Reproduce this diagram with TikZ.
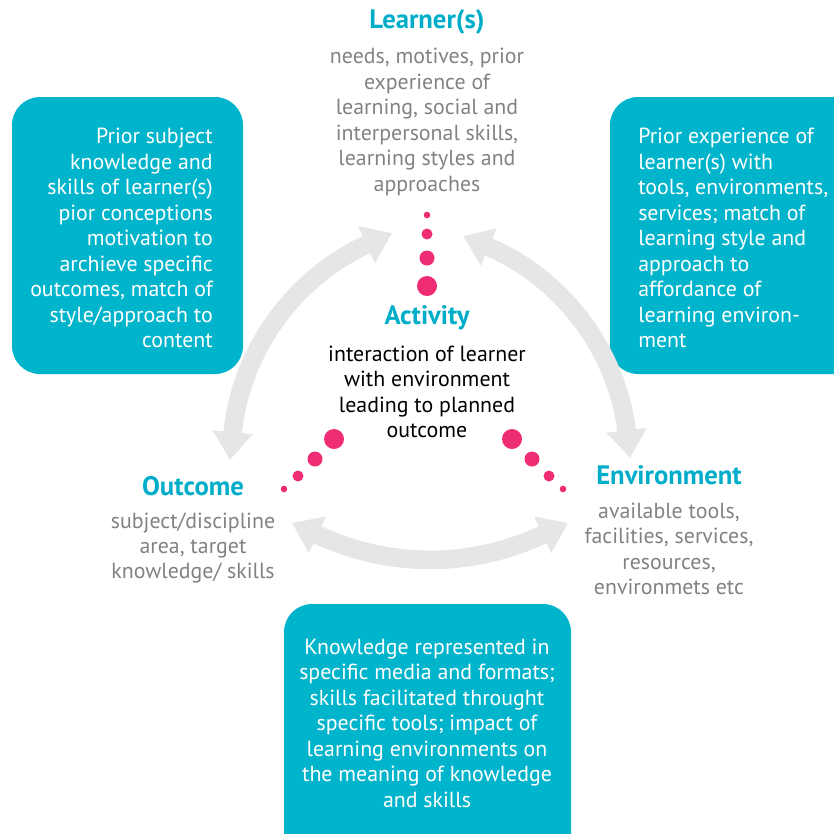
\documentclass[tikz,border=0pt]{standalone}
\usepackage{fontspec}
\setmainfont{PT Sans}
\usetikzlibrary{arrows.meta}
\definecolor{boxcyan}{HTML}{00B4CB}
\definecolor{headcyan}{HTML}{00ADC8}
\definecolor{txtgray}{HTML}{808285}
\definecolor{dotpink}{HTML}{EE2D74}
\definecolor{arcgray}{HTML}{E5E6E7}
\tikzset{
  head/.style={text=headcyan, inner sep=0pt, font=\fontsize{20}{23}\selectfont\bfseries},
  body/.style={text=txtgray, align=center, inner sep=0pt, font=\fontsize{16.4}{19.1}\selectfont},
  boxtext/.style={text=white, inner sep=0pt, font=\fontsize{16.4}{19.1}\selectfont},
  cbox/.style={fill=boxcyan, rounded corners=21pt},
  cyclearrow/.style={draw=arcgray, line width=14pt,
    {Triangle[width=29pt,length=21pt]}-{Triangle[width=29pt,length=21pt]}}
}
\begin{document}
\begin{tikzpicture}[x=0.75pt,y=0.75pt]
        \useasboundingbox (0,0) rectangle (834,-833);
        \clip (0,0) rectangle (834,-833);

        \path[cbox] (12,-97) rectangle (243,-374);
        \path[cbox] (610,-97) rectangle (870,-374);
        \path[cbox] (284,-604) rectangle (571,-870);

        \coordinate (out-ne) at (230,-460);
        \coordinate (lrn-sw) at (392,-233);
        \coordinate (lrn-se) at (463,-236);
        \coordinate (env-nw) at (630,-458);
        \coordinate (env-w) at (568,-523);
        \coordinate (out-e) at (292,-523);

        \draw[cyclearrow] (out-ne) to[bend left=30] (lrn-sw);
        \draw[cyclearrow] (lrn-se) to[bend left=30] (env-nw);
        \draw[cyclearrow] (env-w) to[bend left=25] (out-e);

        \foreach \x/\y/\r in {427/215/3.3, 427/234/5.5, 427/258/7.5, 427/286/10,
                              284/489/3.3, 298/476/5.5, 315/459/7.5, 334/439/10,
                              512/439/10, 532/459/7.5, 549/476/5.5, 563/489/3.3}
          \fill[dotpink] (\x,-\y) circle (\r);

        \node[head] (lrn) at (427,-22) {Learner(s)};
        \node[body] (lrn-txt) at (427,-122) {needs, motives, prior\\experience of\\learning, social and\\interpersonal skills,\\learning styles and\\approaches};

        \node[head] (act) at (427,-318) {Activity};
        \node[body, text=black] (act-txt) at (427,-392) {interaction of learner\\with environment\\leading to planned\\outcome};

        \node[head] (out) at (193,-486) {Outcome};
        \node[body] (out-txt) at (193,-548) {subject/discipline\\area, target\\knowledge/ skills};

        \node[head] (env) at (669,-475) {Environment};
        \node[body] (env-txt) at (669,-549) {available tools,\\facilities, services,\\resources,\\environmets etc};

        \node[boxtext, align=right, anchor=east] (lbox) at (213,-238) {Prior subject\\knowledge and\\skills of learner(s)\\pior conceptions\\motivation to\\archieve specific\\outcomes, match of\\style/approach to\\content};
        \node[boxtext, align=left, anchor=west] (rbox) at (638,-238) {Prior experience of\\learner(s) with\\tools, environments,\\services; match of\\learning style and\\approach to\\affordance of\\learning environ-\\ment};
        \node[boxtext, align=center] (bbox) at (427,-723) {Knowledge represented in\\specific media and formats;\\skills facilitated throught\\specific tools; impact of\\learning environments on\\the meaning of knowledge\\and skills};

\end{tikzpicture}
\end{document}
